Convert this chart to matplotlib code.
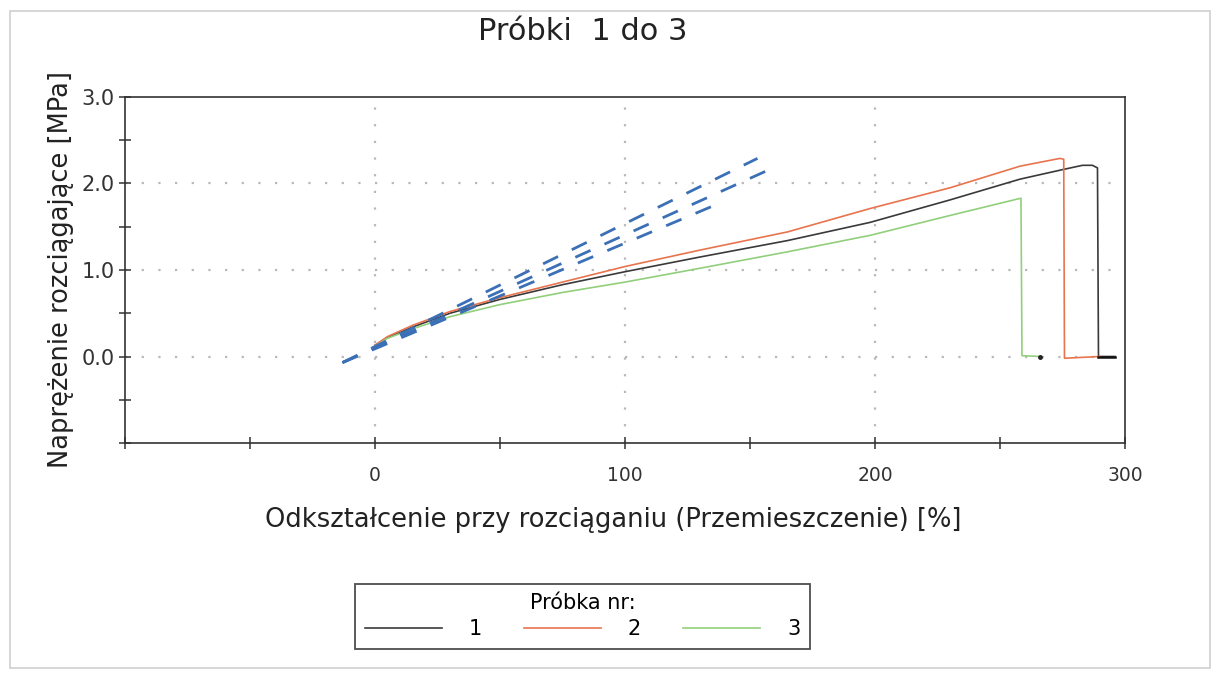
import numpy as np
import matplotlib
matplotlib.use("Agg")
import matplotlib.pyplot as plt
from matplotlib.patches import Rectangle

plt.rcParams['font.family'] = ['DejaVu Sans']

# sample curves: strain [%], stress [MPa]
x1 = [0, 5, 15, 30, 50, 75, 100, 130, 165, 198, 230, 258, 275, 283, 287, 289, 289.4, 296]
y1 = [0.13, 0.22, 0.34, 0.50, 0.66, 0.83, 0.98, 1.15, 1.34, 1.55, 1.81, 2.05, 2.16, 2.21, 2.21, 2.18, 0.0, 0.0]

x2 = [0, 5, 15, 30, 50, 75, 100, 130, 165, 198, 230, 258, 274, 275.5, 275.8, 290]
y2 = [0.13, 0.23, 0.36, 0.52, 0.68, 0.86, 1.04, 1.23, 1.44, 1.71, 1.95, 2.20, 2.29, 2.28, -0.02, 0.0]

x3 = [0, 5, 15, 30, 50, 75, 100, 130, 165, 198, 230, 258.4, 258.8, 266]
y3 = [0.12, 0.21, 0.32, 0.46, 0.60, 0.74, 0.86, 1.02, 1.21, 1.40, 1.63, 1.83, 0.01, 0.0]

# tangent (modulus) lines: start / end points
tan_x0 = [-13, -13, -13]
tan_y0 = [-0.07, -0.07, -0.07]
tan_x1 = [153, 160, 136]
tan_y1 = [2.29, 2.19, 1.75]

labels = ['1', '2', '3']
colors = ['#3a3a3a', '#e8744e', '#92cf7c']

fig = plt.figure(figsize=(12.12, 6.8), dpi=100)
ax = fig.add_axes([0.1031, 0.3485, 0.8251, 0.5089])

ax.plot(x1, y1, color=colors[0], lw=1.2, label=labels[0], zorder=3)
ax.plot(x2, y2, color=colors[1], lw=1.2, label=labels[1], zorder=3)
ax.plot(x3, y3, color=colors[2], lw=1.2, label=labels[2], zorder=3)
ax.plot(x1[-2:], y1[-2:], color='#111111', lw=1.8, zorder=3)
ax.plot([x3[-1]], [y3[-1]], 'o', color='#222222', ms=2.5, zorder=3)

for i in range(len(tan_x0)):
    ax.plot([tan_x0[i], tan_x1[i]], [tan_y0[i], tan_y1[i]], color='#3b6fb6',
            lw=2.0, dashes=(6, 5.5), zorder=4)

ax.set_xlim(-100, 300)
ax.set_ylim(-1, 3)
ax.set_xticks(np.arange(-100, 301, 50))
ax.set_xticklabels(['' if (v % 100 or v < 0) else str(int(v)) for v in np.arange(-100, 301, 50)])
ax.set_yticks(np.arange(-1, 3.01, 0.5))
ax.set_yticklabels(['' if (v % 1 or v < 0) else '%.1f' % v for v in np.arange(-1, 3.01, 0.5)])
ax.tick_params(axis='x', direction='inout', length=9, width=1.1, colors='#333333',
               labelsize=13.5, pad=12)
ax.tick_params(axis='y', direction='inout', length=9, width=1.1, colors='#333333',
               labelsize=15, pad=3)
for s in ax.spines.values():
    s.set_color('#333333')
    s.set_linewidth(1.2)

for gx in [0, 100, 200]:
    ax.axvline(gx, color='#b8b8b8', lw=1.6, ls=(0, (1, 6.5)), zorder=1)
for gy in [0, 1, 2]:
    ax.axhline(gy, color='#b8b8b8', lw=1.6, ls=(0, (1, 6.5)), zorder=1)

fig.text(0.481, 0.953, 'Próbki  1 do 3', ha='center', va='center', fontsize=22, color='#222222')
fig.text(0.05, 0.603, 'Naprężenie rozciągające [MPa]', rotation=90, ha='center', va='center',
         fontsize=18.5, color='#222222')
fig.text(0.506, 0.235, 'Odkształcenie przy rozciąganiu (Przemieszczenie) [%]', ha='center',
         va='center', fontsize=18.5, color='#222222')

leg = ax.legend(loc='center', bbox_to_anchor=(0.4806, 0.094), bbox_transform=fig.transFigure,
                ncol=3, title='Próbka nr:', fontsize=15, title_fontsize=15,
                frameon=True, fancybox=False, edgecolor='#222222', handlelength=3.7,
                handletextpad=1.3, columnspacing=2.0, borderpad=0.45, borderaxespad=0,
                labelspacing=0.3)
leg.get_frame().set_linewidth(1.3)

# faint scan border
fig.patches.append(Rectangle((0.008, 0.018), 0.99, 0.966, transform=fig.transFigure,
                             fill=False, edgecolor='#d0d0d0', lw=1.2))

fig.savefig('out.png', dpi=100)
